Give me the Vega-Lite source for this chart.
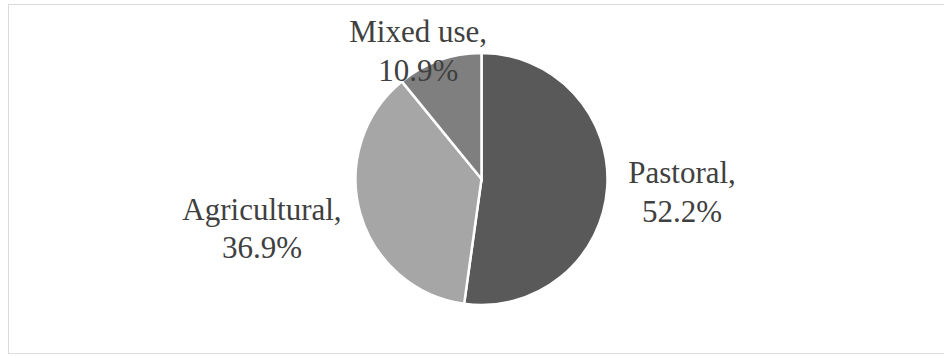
{
  "$schema": "https://vega.github.io/schema/vega-lite/v6.json",
  "autosize": "none",
  "width": 939,
  "height": 350,
  "padding": {"left": 8, "top": 4, "right": 0, "bottom": 0},
  "background": "white",
  "config": {"view": {"stroke": null}},
  "data": {
    "values": [
      {"category": "Pastoral", "value": 52.2, "rank": 1, "label": "Pastoral,\n52.2%"},
      {"category": "Agricultural", "value": 36.9, "rank": 2, "label": "Agricultural,\n36.9%"},
      {"category": "Mixed use", "value": 10.9, "rank": 3, "label": "Mixed use,\n10.9%"}
    ]
  },
  "layer": [
    {
      "mark": {"type": "rect", "fill": null, "stroke": "#d9d9d9", "strokeWidth": 1},
      "encoding": {
        "x": {"value": 0.5},
        "x2": {"value": "width"},
        "y": {"value": 0.5},
        "y2": {"value": "height"}
      }
    },
    {
      "mark": {"type": "arc", "radius": 126, "stroke": "white", "strokeWidth": 2.5, "xOffset": 4},
      "encoding": {
        "theta": {"field": "value", "type": "quantitative", "stack": true},
        "order": {"field": "rank", "type": "quantitative"},
        "color": {
          "field": "category", "type": "nominal", "legend": null,
          "scale": {"domain": ["Pastoral", "Agricultural", "Mixed use"], "range": ["#595959", "#a6a6a6", "#7f7f7f"]}
        }
      }
    },
    {
      "mark": {"type": "text", "radius": 201, "xOffset": 4, "dy": -19, "font": "Liberation Serif", "fontSize": 31, "lineHeight": 39, "lineBreak": "\n", "color": "#404040", "align": "center", "baseline": "middle"},
      "encoding": {
        "theta": {"field": "value", "type": "quantitative", "stack": true},
        "order": {"field": "rank", "type": "quantitative"},
        "text": {"condition": {"test": "datum.category === 'Pastoral'", "field": "label"}, "value": ""}
      }
    },
    {
      "mark": {"type": "text", "radius": 228, "xOffset": 4, "dy": -30, "font": "Liberation Serif", "fontSize": 31, "lineHeight": 38, "lineBreak": "\n", "color": "#404040", "align": "center", "baseline": "middle"},
      "encoding": {
        "theta": {"field": "value", "type": "quantitative", "stack": true},
        "order": {"field": "rank", "type": "quantitative"},
        "text": {"condition": {"test": "datum.category === 'Agricultural'", "field": "label"}, "value": ""}
      }
    },
    {
      "mark": {"type": "text", "radius": 135, "xOffset": 4, "dx": -18, "dy": -19, "font": "Liberation Serif", "fontSize": 31, "lineHeight": 39, "lineBreak": "\n", "color": "#404040", "align": "center", "baseline": "middle"},
      "encoding": {
        "theta": {"field": "value", "type": "quantitative", "stack": true},
        "order": {"field": "rank", "type": "quantitative"},
        "text": {"condition": {"test": "datum.category === 'Mixed use'", "field": "label"}, "value": ""}
      }
    }
  ]
}
